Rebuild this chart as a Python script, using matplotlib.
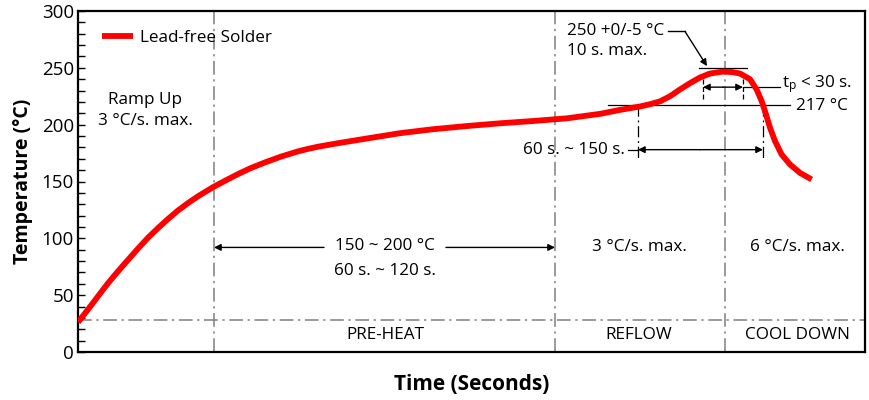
import numpy as np
import matplotlib
matplotlib.use('Agg')
import matplotlib.pyplot as plt
from matplotlib.ticker import MultipleLocator

plt.rcParams['font.family'] = ['Open Sans', 'DejaVu Sans']
plt.rcParams['font.stretch'] = 'semi-condensed'
plt.rcParams['mathtext.fontset'] = 'custom'
plt.rcParams['mathtext.rm'] = 'Open Sans:stretch=semi-condensed'

# profile (time in arbitrary seconds, temp in °C)
time = [0, 5, 10, 15, 20, 25, 30, 35, 40, 45, 50, 55, 60, 67.5, 75, 80, 86, 93.5, 101.5, 110,
        115, 120, 130, 145, 161, 177, 194.5, 211, 227.5, 244.5, 261, 271, 281, 286, 291,
        296, 301, 306, 311, 316, 322.5, 327, 331, 336, 339.3, 341.8, 344, 346, 348.5,
        351.8, 356, 361, 366.8]
temp = [26.2, 37.4, 49, 60.5, 71, 81, 91, 100.5, 109, 117, 124.5, 131, 137, 145, 152, 156.5,
        161.5, 166.8, 171.9, 176.5, 178.7, 180.6, 183.7, 188, 192.5, 195.9, 198.8, 201.2,
        203.2, 205.6, 209.5, 213, 216, 218, 220.5, 225, 231, 236.5, 241.5, 245, 246.7,
        246.3, 245, 240, 231, 220.9, 209, 197.4, 185.6, 173.8, 165, 157.6, 151.8]

zones = [68, 238.5, 323.5]          # phase borders
zone_names = ['PRE-HEAT', 'REFLOW', 'COOL DOWN']
zone_mid = [153.5, 280.5, 359.5]
rates = ['3 °C/s. max.', '6 °C/s. max.']
t_liq_start, t_liq_end = 280, 342.5
tp_start, tp_end = 312.5, 332.5
base_temp = 28
liquidus = 217
peak = 250

fig = plt.figure(figsize=(8.7, 4), dpi=100)
ax = fig.add_axes([78 / 870, 48 / 400, 787 / 870, 341 / 400])
ax.set_xlim(0, 393.5)
ax.set_ylim(0, 300)

grey = '#7f7f7f'
dd = (0, (9, 3, 1.5, 3))
for z in zones:
    ax.axvline(z, color=grey, lw=1.1, ls=dd, zorder=1)
ax.axhline(base_temp, color=grey, lw=1.1, ls=dd, zorder=1)

ax.plot(time, temp, color='#ff0000', lw=4.2, solid_joinstyle='round',
        solid_capstyle='butt', zorder=5, label='Lead-free Solder')

fs = 12.3
# phase labels
for x, name in zip(zone_mid, zone_names):
    ax.text(x, 15, name, ha='center', va='center', fontsize=fs)
ax.text(zone_mid[1], 92, rates[0], ha='center', va='center', fontsize=fs)
ax.text(zone_mid[2], 92, rates[1], ha='center', va='center', fontsize=fs)
ax.text(33.5, 222, 'Ramp Up', ha='center', va='center', fontsize=fs)
ax.text(33.5, 203, '3 °C/s. max.', ha='center', va='center', fontsize=fs)

# preheat window
ax.text(153.5, 93, '150 ~ 200 °C', ha='center', va='center', fontsize=fs)
ax.text(153.5, 71, '60 s. ~ 120 s.', ha='center', va='center', fontsize=fs)
ak = dict(arrowstyle='-|>', color='black', lw=1.0, mutation_scale=10, shrinkA=0, shrinkB=0)
ax.annotate('', xy=(zones[0], 92), xytext=(123, 92), arrowprops=ak)
ax.annotate('', xy=(zones[1], 92), xytext=(184, 92), arrowprops=ak)

# liquidus line and time above liquidus
ax.plot([265, 356], [liquidus, liquidus], color='black', lw=0.9, zorder=2)
ax.text(359, liquidus - 1, '217 °C', ha='left', va='center', fontsize=fs)
for x in [t_liq_start, t_liq_end]:
    ax.plot([x, x], [liquidus, 169], color='black', lw=0.9, ls=dd, zorder=2)
ax.annotate('', xy=(t_liq_start, 178), xytext=(311, 178), arrowprops=ak)
ax.annotate('', xy=(t_liq_end, 178), xytext=(311, 178), arrowprops=ak)
ax.plot([275, t_liq_start], [178, 178], color='black', lw=0.9)
ax.text(273.5, 178, '60 s. ~ 150 s.', ha='right', va='center', fontsize=fs)

# peak
ax.plot([310.5, 334.5], [peak, peak], color='black', lw=0.9, zorder=2)
for x in [tp_start, tp_end]:
    ax.plot([x, x], [223, 243], color='black', lw=0.9, ls=(0, (4, 2)), zorder=2)
ax.annotate('', xy=(tp_start, 233), xytext=(322.5, 233), arrowprops=ak)
ax.annotate('', xy=(tp_end, 233), xytext=(322.5, 233), arrowprops=ak)
ax.plot([tp_end, 351], [233, 233], color='black', lw=0.9)
ax.text(352, 236, r'$\mathregular{t_p}$ < 30 s.', ha='left', va='center', fontsize=fs)
ax.text(244.5, 282, '250 +0/-5 °C', ha='left', va='center', fontsize=fs)
ax.text(244.5, 264.5, '10 s. max.', ha='left', va='center', fontsize=fs)
ax.plot([295, 303.5], [282, 282], color='black', lw=1.0)
ax.annotate('', xy=(314.5, 251.5), xytext=(303.5, 282), arrowprops=ak)

# legend
ax.legend(loc='center left', frameon=False, fontsize=fs, handlelength=1.8,
          handletextpad=0.45, borderpad=0, borderaxespad=0,
          bbox_to_anchor=(24 / 787, 1 - 27 / 341))

ax.yaxis.set_major_locator(MultipleLocator(50))
ax.yaxis.set_minor_locator(MultipleLocator(10))
ax.tick_params(axis='y', which='both', direction='in', length=5, width=1.0, labelsize=13.5, pad=3)
ax.tick_params(axis='x', bottom=False, labelbottom=False)
for s in ax.spines.values():
    s.set_linewidth(1.6)

ax.set_ylabel('Temperature (°C)', fontsize=14, fontweight='bold', labelpad=6)
ax.set_xlabel('Time (Seconds)', fontsize=15, fontweight='bold', labelpad=16)

fig.savefig('out.png', dpi=100)
